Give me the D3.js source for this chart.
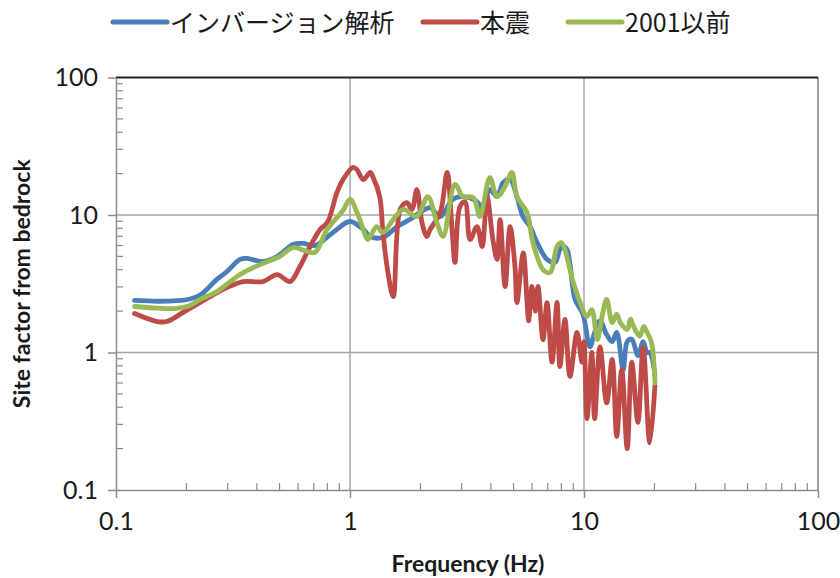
<!DOCTYPE html>
<html>
<head>
<meta charset="utf-8">
<script src="https://cdn.jsdelivr.net/npm/d3@7"></script>
<style>
  body { margin: 0; background: #fff; }
  svg { display: block; }
</style>
</head>
<body>
<svg id="chart" width="840" height="578"></svg>
<script>
// Site amplification spectra (log-log)
const seriesNames = ["インバージョン解析", "本震", "2001以前"];
const seriesColors = ["#4a7ebb", "#be4b48", "#98b954"];

const decadeTicks = [0.1, 1, 10, 100];
const decadeLabels = ["0.1", "1", "10", "100"];

// インバージョン解析
const inversionFreq = [0.12, 0.15, 0.182, 0.207, 0.229, 0.27, 0.298, 0.339, 0.363, 0.425, 0.488, 0.571, 0.63, 0.709, 0.846, 1.0,
  1.14, 1.22, 1.38, 1.59, 1.8, 1.99, 2.2, 2.43, 2.75, 3.04, 3.49, 3.7, 3.96, 4.25, 4.51, 4.83, 5.17, 5.48, 5.88,
  6.3, 6.95, 7.52, 7.89, 8.13, 8.46, 8.71, 9.16, 9.9, 10.6, 11.1, 11.7, 12.5, 13.2, 13.8, 14.7, 15.3, 16.0, 17.0,
  17.9, 18.6, 19.1, 20.1];
const inversionValue = [2.39, 2.36, 2.38, 2.45, 2.62, 3.4, 3.88, 4.75, 4.83, 4.59, 4.99, 6.1, 6.21, 6.0, 7.46, 8.97,
  7.85, 6.98, 6.86, 8.24, 9.27, 10.4, 11.3, 9.75, 13.0, 13.6, 12.5, 11.0, 15.3, 13.6, 17.2, 18.1, 13.6, 9.75, 8.24,
  6.31, 4.75, 4.52, 5.61, 5.9, 5.61, 4.4, 2.43, 1.9, 1.1, 1.4, 1.7, 1.35, 1.2, 1.4, 0.75, 1.2, 1.25, 0.95,
  1.2, 1.0, 1.0, 0.69];

// 本震
const mainShockFreq = [0.12, 0.15, 0.165, 0.193, 0.229, 0.27, 0.298, 0.349, 0.425, 0.488, 0.554, 0.611, 0.675, 0.745,
  0.8, 0.88, 0.934, 1.03, 1.07, 1.14, 1.22, 1.25, 1.34, 1.38, 1.44, 1.53, 1.64, 1.75, 1.84, 1.93, 2.03, 2.13, 2.2,
  2.43, 2.6, 2.73, 2.81, 2.95, 3.1, 3.26, 3.49, 3.67, 3.85, 4.08, 4.25, 4.38, 4.6, 4.83, 5.07, 5.17, 5.5, 5.71,
  5.8, 5.99, 6.2, 6.36, 6.68, 6.95, 7.3, 7.67, 7.89, 8.29, 8.71, 9.34, 9.8, 10.0, 10.3, 10.8, 11.1, 11.7, 12.5,
  13.2, 13.8, 14.5, 15.3, 16.0, 17.0, 17.9, 19.1, 20.1];
const mainShockValue = [1.92, 1.68, 1.68, 1.95, 2.31, 2.73, 2.97, 3.28, 3.28, 3.69, 3.28, 4.22, 5.9, 7.85,
  8.8, 14.6, 18.1, 22.2, 21.4, 18.1, 20.4, 19.1, 13.6, 7.85, 4.22, 2.55, 11.0, 12.3, 11.0, 15.3, 8.82, 6.98, 7.85,
  10.4, 20.4, 7.85, 4.52, 11.5, 12.5, 6.63, 8.24, 5.9, 13.6, 6.63, 4.75, 9.27, 3.02, 8.24, 4.22, 2.31, 5.3, 2.31,
  1.7, 3.02, 2.0, 3.02, 1.24, 2.3, 0.85, 2.31, 0.79, 1.74, 0.67, 1.4, 0.85, 1.2, 0.33, 1.0, 0.33, 1.1, 0.43,
  0.89, 0.245, 0.75, 0.2, 0.85, 0.31, 1.1, 0.22, 0.58];

// 2001以前
const preFreq = [0.12, 0.15, 0.182, 0.207, 0.229, 0.27, 0.339, 0.414, 0.5, 0.571, 0.655, 0.709, 0.798, 0.934, 1.0,
  1.07, 1.14, 1.19, 1.3, 1.38, 1.53, 1.69, 1.93, 2.15, 2.35, 2.5, 2.81, 3.04, 3.36, 3.59, 3.96, 4.25, 4.6, 4.92,
  5.17, 5.71, 6.05, 6.68, 7.16, 7.67, 8.0, 8.97, 9.62, 10.3, 10.8, 11.4, 12.0, 12.5, 13.2, 13.8, 14.3, 15.3, 15.8,
  16.2, 17.3, 18.0, 18.6, 19.4, 20.1];
const preValue = [2.16, 2.1, 2.09, 2.2, 2.43, 2.78, 3.69, 4.37, 4.99, 5.8, 5.43, 5.34, 7.85, 10.8, 13.0,
  10.5, 7.85, 6.63, 8.24, 7.46, 9.27, 11.0, 9.75, 13.6, 8.82, 6.98, 16.7, 13.6, 13.4, 9.75, 18.7, 13.6, 16.1, 20.4,
  13.6, 10.4, 6.31, 4.01, 3.82, 5.9, 6.3, 3.3, 2.31, 1.83, 2.05, 1.24, 1.9, 2.43, 1.65, 1.9, 1.65, 1.47, 1.75,
  1.58, 1.31, 1.55, 1.4, 1.2, 0.6];

const series = [
  { name: seriesNames[0], color: seriesColors[0], freq: inversionFreq, value: inversionValue },
  { name: seriesNames[1], color: seriesColors[1], freq: mainShockFreq, value: mainShockValue },
  { name: seriesNames[2], color: seriesColors[2], freq: preFreq, value: preValue }
];

const svg = d3.select("#chart");
const plotLeft = 116, plotRight = 818, plotTop = 77.5, plotBottom = 490;

const x = d3.scaleLog().domain([0.1, 100]).range([plotLeft, plotRight]);
const y = d3.scaleLog().domain([0.1, 100]).range([plotBottom, plotTop]);

const minorTicks = [];
[0.1, 1, 10].forEach(d => { for (let k = 2; k <= 9; k++) minorTicks.push(+(d * k).toPrecision(3)); });

// gridlines at each decade
const grid = svg.append("g");
grid.selectAll("line.vx").data(decadeTicks.slice(1, 3)).join("line")
  .attr("x1", d => x(d)).attr("x2", d => x(d)).attr("y1", plotTop).attr("y2", plotBottom)
  .attr("stroke", "#a6a6a6").attr("stroke-width", 1.5);
grid.selectAll("line.hy").data(decadeTicks.slice(1, 3)).join("line")
  .attr("x1", plotLeft).attr("x2", plotRight).attr("y1", d => y(d)).attr("y2", d => y(d))
  .attr("stroke", "#a6a6a6").attr("stroke-width", 1.5);

// frame: right edge and top edge
svg.append("line").attr("x1", plotRight).attr("x2", plotRight).attr("y1", plotTop).attr("y2", plotBottom)
  .attr("stroke", "#7f7f7f").attr("stroke-width", 1.5);
svg.append("line").attr("x1", plotLeft).attr("x2", plotRight).attr("y1", plotTop).attr("y2", plotTop)
  .attr("stroke", "#222").attr("stroke-width", 2);

// axes
const axisColor = "#8c8c8c";
const xAxis = svg.append("g").attr("transform", `translate(0,${plotBottom})`)
  .call(d3.axisBottom(x).tickValues(decadeTicks).tickFormat((d, i) => decadeLabels[i]).tickSizeInner(8).tickSizeOuter(0).tickPadding(14));
const yAxis = svg.append("g").attr("transform", `translate(${plotLeft},0)`)
  .call(d3.axisLeft(y).tickValues(decadeTicks).tickFormat((d, i) => decadeLabels[i]).tickSizeInner(8).tickSizeOuter(0).tickPadding(10));
[xAxis, yAxis].forEach(g => {
  g.select(".domain").attr("stroke", axisColor).attr("stroke-width", 1.5);
  g.selectAll(".tick line").attr("stroke", axisColor).attr("stroke-width", 1.5);
  g.selectAll(".tick text").attr("fill", "#1a1a1a").style("font-family", "Lato, 'Open Sans', sans-serif").style("font-size", "25px");
});

// minor ticks drawn inward
svg.append("g").selectAll("line").data(minorTicks).join("line")
  .attr("x1", d => x(d)).attr("x2", d => x(d)).attr("y1", plotBottom).attr("y2", plotBottom - 7)
  .attr("stroke", axisColor).attr("stroke-width", 1.2);
svg.append("g").selectAll("line").data(minorTicks).join("line")
  .attr("y1", d => y(d)).attr("y2", d => y(d)).attr("x1", plotLeft).attr("x2", plotLeft + 7)
  .attr("stroke", axisColor).attr("stroke-width", 1.2);

// series lines
const line = d3.line().curve(d3.curveCatmullRom.alpha(0.5));
const plot = svg.append("g");
series.forEach(s => {
  const pts = s.freq.map((f, i) => [x(f), y(s.value[i])]);
  plot.append("path").attr("d", line(pts))
    .attr("fill", "none").attr("stroke", s.color).attr("stroke-width", 4.8)
    .attr("stroke-linejoin", "round").attr("stroke-linecap", "round");
});

// axis titles
svg.append("text").attr("x", (plotLeft + plotRight) / 2 + 1).attr("y", 572)
  .attr("text-anchor", "middle").attr("font-family", "Lato, 'Open Sans', sans-serif")
  .attr("font-weight", "bold").attr("font-size", 23).attr("fill", "#1a1a1a")
  .text("Frequency (Hz)");
svg.append("text").attr("transform", `translate(30,${(plotTop + plotBottom) / 2}) rotate(-90)`)
  .attr("text-anchor", "middle").attr("font-family", "Lato, 'Open Sans', sans-serif")
  .attr("font-weight", "bold").attr("font-size", 23).attr("fill", "#1a1a1a")
  .text("Site factor from bedrock");

// legend
const legendItems = [
  { x0: 113, name: seriesNames[0], color: seriesColors[0] },
  { x0: 423, name: seriesNames[1], color: seriesColors[1] },
  { x0: 568, name: seriesNames[2], color: seriesColors[2] }
];
const legend = svg.append("g");
legendItems.forEach(it => {
  legend.append("line").attr("x1", it.x0).attr("x2", it.x0 + 54).attr("y1", 22).attr("y2", 22)
    .attr("stroke", it.color).attr("stroke-width", 5).attr("stroke-linecap", "round");
  legend.append("text").attr("x", it.x0 + 57).attr("y", 32)
    .attr("font-family", "'Noto Sans CJK JP', sans-serif").attr("font-size", 25).attr("fill", "#1a1a1a")
    .text(it.name);
});
</script>
</body>
</html>
